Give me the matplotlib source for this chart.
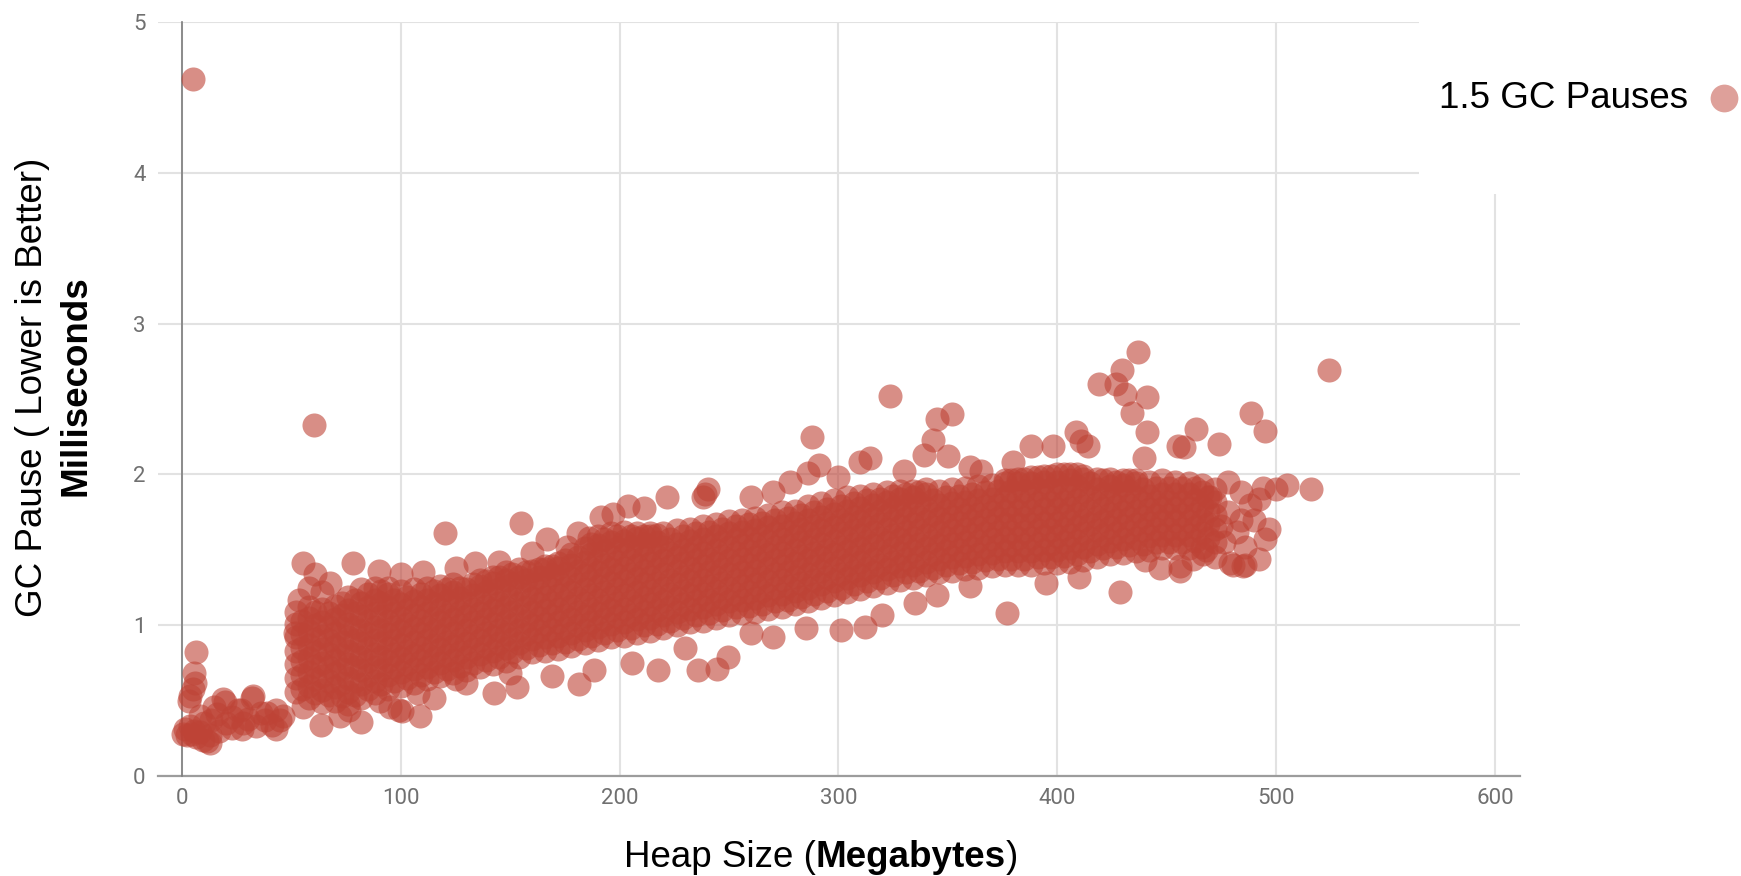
import matplotlib.pyplot as plt
from matplotlib.lines import Line2D
from matplotlib.patches import Rectangle

# dense band: heap size columns (MB) and the GC pauses (ms) read in each column
band_heap_mb = [52, 58, 64, 70, 76, 82, 88, 94, 100, 106, 112, 118, 124, 130, 136, 142,
                148, 154, 160, 166, 172, 178, 184, 190, 196, 202, 208, 214, 220, 226, 232,
                238, 244, 250, 256, 262, 268, 274, 280, 286, 292, 298, 304, 310, 316, 322,
                328, 334, 340, 346, 352, 358, 364, 370, 376, 382, 388, 394, 400, 406, 412,
                418, 424, 430, 436, 442, 448, 454, 460, 466, 472]
band_pause_ms = [
    [0.56, 0.65, 0.74, 0.83, 0.92, 1.01, 1.09],
    [0.52, 0.60, 0.69, 0.78, 0.87, 0.96, 1.05, 1.12],
    [0.49, 0.57, 0.66, 0.75, 0.84, 0.93, 1.02, 1.11],
    [0.50, 0.59, 0.68, 0.77, 0.86, 0.95, 1.04, 1.13],
    [0.48, 0.56, 0.65, 0.74, 0.83, 0.92, 1.01, 1.10, 1.19],
    [0.52, 0.61, 0.70, 0.79, 0.88, 0.97, 1.06, 1.15, 1.24],
    [0.55, 0.63, 0.72, 0.81, 0.90, 0.99, 1.08, 1.17, 1.25],
    [0.58, 0.67, 0.76, 0.85, 0.94, 1.03, 1.12, 1.21, 1.25],
    [0.60, 0.69, 0.78, 0.87, 0.96, 1.05, 1.14, 1.23],
    [0.62, 0.71, 0.80, 0.89, 0.98, 1.07, 1.16, 1.24],
    [0.64, 0.72, 0.81, 0.90, 0.99, 1.08, 1.17, 1.25],
    [0.66, 0.75, 0.84, 0.93, 1.02, 1.11, 1.20, 1.26],
    [0.68, 0.77, 0.86, 0.95, 1.04, 1.13, 1.22, 1.27],
    [0.70, 0.79, 0.88, 0.97, 1.06, 1.15, 1.24],
    [0.72, 0.81, 0.90, 0.99, 1.08, 1.17, 1.26, 1.30],
    [0.74, 0.83, 0.92, 1.01, 1.10, 1.19, 1.28, 1.32],
    [0.76, 0.85, 0.94, 1.03, 1.12, 1.21, 1.30, 1.35],
    [0.79, 0.88, 0.97, 1.06, 1.15, 1.24, 1.32, 1.37],
    [0.82, 0.91, 1.00, 1.09, 1.18, 1.27, 1.36],
    [0.83, 0.92, 1.01, 1.10, 1.19, 1.28, 1.37, 1.39],
    [0.84, 0.93, 1.02, 1.11, 1.20, 1.29, 1.38, 1.41],
    [0.86, 0.95, 1.04, 1.13, 1.22, 1.31, 1.40, 1.47],
    [0.88, 0.97, 1.06, 1.15, 1.24, 1.33, 1.42, 1.51],
    [0.90, 0.99, 1.08, 1.17, 1.26, 1.35, 1.44, 1.53, 1.59],
    [0.92, 1.01, 1.10, 1.19, 1.28, 1.37, 1.46, 1.55, 1.61],
    [0.93, 1.02, 1.11, 1.20, 1.29, 1.38, 1.47, 1.56, 1.62],
    [0.95, 1.04, 1.13, 1.22, 1.31, 1.40, 1.49, 1.58, 1.61],
    [0.96, 1.05, 1.14, 1.23, 1.32, 1.41, 1.50, 1.59, 1.61],
    [0.98, 1.07, 1.16, 1.25, 1.34, 1.43, 1.52, 1.61],
    [1.00, 1.09, 1.18, 1.27, 1.36, 1.45, 1.54, 1.63],
    [1.02, 1.11, 1.20, 1.29, 1.38, 1.47, 1.56, 1.64],
    [1.03, 1.12, 1.21, 1.30, 1.39, 1.48, 1.57, 1.66],
    [1.05, 1.14, 1.23, 1.32, 1.41, 1.50, 1.59, 1.67],
    [1.07, 1.16, 1.25, 1.34, 1.43, 1.52, 1.61, 1.69],
    [1.08, 1.17, 1.26, 1.35, 1.44, 1.53, 1.62, 1.70],
    [1.09, 1.18, 1.27, 1.36, 1.45, 1.54, 1.63, 1.71],
    [1.11, 1.20, 1.29, 1.38, 1.47, 1.56, 1.65, 1.73],
    [1.12, 1.21, 1.30, 1.39, 1.48, 1.57, 1.66, 1.75],
    [1.14, 1.23, 1.32, 1.41, 1.50, 1.59, 1.68, 1.76],
    [1.16, 1.25, 1.34, 1.43, 1.52, 1.61, 1.70, 1.79],
    [1.18, 1.27, 1.36, 1.45, 1.54, 1.63, 1.72, 1.81],
    [1.20, 1.29, 1.38, 1.47, 1.56, 1.65, 1.74, 1.83],
    [1.22, 1.31, 1.40, 1.49, 1.58, 1.67, 1.76, 1.85],
    [1.24, 1.33, 1.42, 1.51, 1.60, 1.69, 1.78, 1.86],
    [1.26, 1.35, 1.44, 1.53, 1.62, 1.71, 1.80, 1.87],
    [1.28, 1.37, 1.46, 1.55, 1.64, 1.73, 1.82, 1.88],
    [1.30, 1.39, 1.48, 1.57, 1.66, 1.75, 1.84, 1.89],
    [1.31, 1.40, 1.49, 1.58, 1.67, 1.76, 1.85, 1.89],
    [1.33, 1.42, 1.51, 1.60, 1.69, 1.78, 1.87, 1.90],
    [1.35, 1.44, 1.53, 1.62, 1.71, 1.80, 1.89],
    [1.36, 1.45, 1.54, 1.63, 1.72, 1.81, 1.90],
    [1.37, 1.46, 1.55, 1.64, 1.73, 1.82, 1.91],
    [1.38, 1.47, 1.56, 1.65, 1.74, 1.83, 1.92],
    [1.39, 1.48, 1.57, 1.66, 1.75, 1.84, 1.93],
    [1.40, 1.49, 1.58, 1.67, 1.76, 1.85, 1.94, 1.96],
    [1.40, 1.49, 1.58, 1.67, 1.76, 1.85, 1.94, 1.97],
    [1.40, 1.49, 1.58, 1.67, 1.76, 1.85, 1.94, 1.98],
    [1.41, 1.50, 1.59, 1.68, 1.77, 1.86, 1.95, 1.99],
    [1.41, 1.50, 1.59, 1.68, 1.77, 1.86, 1.95, 2.00],
    [1.42, 1.51, 1.60, 1.69, 1.78, 1.87, 1.96, 2.00],
    [1.43, 1.52, 1.61, 1.70, 1.79, 1.88, 1.97, 1.99],
    [1.45, 1.54, 1.63, 1.72, 1.81, 1.90, 1.97],
    [1.47, 1.56, 1.65, 1.74, 1.83, 1.92, 1.97],
    [1.48, 1.57, 1.66, 1.75, 1.84, 1.93, 1.96],
    [1.49, 1.58, 1.67, 1.76, 1.85, 1.94, 1.96],
    [1.50, 1.59, 1.68, 1.77, 1.86, 1.95],
    [1.51, 1.60, 1.69, 1.78, 1.87, 1.96],
    [1.51, 1.60, 1.69, 1.78, 1.87, 1.95],
    [1.51, 1.60, 1.69, 1.78, 1.87, 1.94],
    [1.52, 1.61, 1.70, 1.79, 1.88, 1.93],
    [1.55, 1.64, 1.73, 1.82, 1.90],
]

# the band again, read in the columns between the ones above
band_mid_heap_mb = [55, 61, 67, 73, 79, 85, 91, 97, 103, 109, 115, 121, 127, 133, 139, 145,
                    151, 157, 163, 169, 175, 181, 187, 193, 199, 205, 211, 217, 223, 229,
                    235, 241, 247, 253, 259, 265, 271, 277, 283, 289, 295, 301, 307, 313,
                    319, 325, 331, 337, 343, 349, 355, 361, 367, 373, 379, 385, 391, 397,
                    403, 409, 415, 421, 427, 433, 439, 445, 451, 457, 463, 469]
band_mid_pause_ms = [
    [0.58, 0.67, 0.76, 0.85, 0.94, 1.03],
    [0.55, 0.64, 0.73, 0.82, 0.91, 1.00, 1.09],
    [0.54, 0.63, 0.72, 0.81, 0.90, 0.99, 1.08],
    [0.53, 0.62, 0.71, 0.80, 0.89, 0.98, 1.07, 1.15],
    [0.54, 0.63, 0.72, 0.81, 0.90, 0.99, 1.08, 1.17],
    [0.58, 0.67, 0.76, 0.85, 0.94, 1.03, 1.12, 1.21],
    [0.61, 0.70, 0.79, 0.88, 0.97, 1.06, 1.15, 1.23],
    [0.63, 0.72, 0.81, 0.90, 0.99, 1.08, 1.17],
    [0.65, 0.74, 0.83, 0.92, 1.01, 1.10, 1.19],
    [0.67, 0.76, 0.85, 0.94, 1.03, 1.12, 1.21],
    [0.69, 0.78, 0.87, 0.96, 1.05, 1.14, 1.23],
    [0.71, 0.80, 0.89, 0.98, 1.07, 1.16, 1.24],
    [0.73, 0.82, 0.91, 1.00, 1.09, 1.18, 1.25],
    [0.75, 0.84, 0.93, 1.02, 1.11, 1.20, 1.27],
    [0.77, 0.86, 0.95, 1.04, 1.13, 1.22, 1.29],
    [0.79, 0.88, 0.97, 1.06, 1.15, 1.24, 1.32],
    [0.82, 0.91, 1.00, 1.09, 1.18, 1.27, 1.34],
    [0.85, 0.94, 1.03, 1.12, 1.21, 1.30, 1.35],
    [0.87, 0.96, 1.05, 1.14, 1.23, 1.32, 1.37],
    [0.88, 0.97, 1.06, 1.15, 1.24, 1.33, 1.39],
    [0.89, 0.98, 1.07, 1.16, 1.25, 1.34, 1.43],
    [0.91, 1.00, 1.09, 1.18, 1.27, 1.36, 1.45],
    [0.93, 1.02, 1.11, 1.20, 1.29, 1.38, 1.47, 1.54],
    [0.95, 1.04, 1.13, 1.22, 1.31, 1.40, 1.49, 1.57],
    [0.97, 1.06, 1.15, 1.24, 1.33, 1.42, 1.51, 1.59],
    [0.98, 1.07, 1.16, 1.25, 1.34, 1.43, 1.52, 1.59],
    [1.00, 1.09, 1.18, 1.27, 1.36, 1.45, 1.54, 1.59],
    [1.01, 1.10, 1.19, 1.28, 1.37, 1.46, 1.55, 1.60],
    [1.03, 1.12, 1.21, 1.30, 1.39, 1.48, 1.57],
    [1.05, 1.14, 1.23, 1.32, 1.41, 1.50, 1.59],
    [1.07, 1.16, 1.25, 1.34, 1.43, 1.52, 1.61],
    [1.08, 1.17, 1.26, 1.35, 1.44, 1.53, 1.62],
    [1.10, 1.19, 1.28, 1.37, 1.46, 1.55, 1.64],
    [1.12, 1.21, 1.30, 1.39, 1.48, 1.57, 1.66],
    [1.13, 1.22, 1.31, 1.40, 1.49, 1.58, 1.67],
    [1.14, 1.23, 1.32, 1.41, 1.50, 1.59, 1.68],
    [1.16, 1.25, 1.34, 1.43, 1.52, 1.61, 1.70],
    [1.17, 1.26, 1.35, 1.44, 1.53, 1.62, 1.71],
    [1.19, 1.28, 1.37, 1.46, 1.55, 1.64, 1.73],
    [1.21, 1.30, 1.39, 1.48, 1.57, 1.66, 1.75],
    [1.23, 1.32, 1.41, 1.50, 1.59, 1.68, 1.77],
    [1.25, 1.34, 1.43, 1.52, 1.61, 1.70, 1.79],
    [1.27, 1.36, 1.45, 1.54, 1.63, 1.72, 1.81],
    [1.29, 1.38, 1.47, 1.56, 1.65, 1.74, 1.83],
    [1.31, 1.40, 1.49, 1.58, 1.67, 1.76, 1.84],
    [1.33, 1.42, 1.51, 1.60, 1.69, 1.78, 1.86],
    [1.35, 1.44, 1.53, 1.62, 1.71, 1.80, 1.87],
    [1.36, 1.45, 1.54, 1.63, 1.72, 1.81, 1.88],
    [1.38, 1.47, 1.56, 1.65, 1.74, 1.83],
    [1.40, 1.49, 1.58, 1.67, 1.76, 1.85],
    [1.41, 1.50, 1.59, 1.68, 1.77, 1.86],
    [1.42, 1.51, 1.60, 1.69, 1.78, 1.87],
    [1.43, 1.52, 1.61, 1.70, 1.79, 1.88],
    [1.44, 1.53, 1.62, 1.71, 1.80, 1.89],
    [1.44, 1.53, 1.62, 1.71, 1.80, 1.89, 1.96],
    [1.44, 1.53, 1.62, 1.71, 1.80, 1.89, 1.97],
    [1.45, 1.54, 1.63, 1.72, 1.81, 1.90, 1.98],
    [1.45, 1.54, 1.63, 1.72, 1.81, 1.90, 1.99],
    [1.46, 1.55, 1.64, 1.73, 1.82, 1.91, 2.00],
    [1.47, 1.56, 1.65, 1.74, 1.83, 1.92, 2.00],
    [1.49, 1.58, 1.67, 1.76, 1.85, 1.94],
    [1.51, 1.60, 1.69, 1.78, 1.87, 1.96],
    [1.52, 1.61, 1.70, 1.79, 1.88, 1.95],
    [1.53, 1.62, 1.71, 1.80, 1.89, 1.96],
    [1.54, 1.63, 1.72, 1.81, 1.90],
    [1.55, 1.64, 1.73, 1.82, 1.91],
    [1.55, 1.64, 1.73, 1.82, 1.91],
    [1.55, 1.64, 1.73, 1.82, 1.91],
    [1.56, 1.65, 1.74, 1.83, 1.91],
    [1.58, 1.67, 1.76, 1.85],
]

# small heaps (< 50 MB), (heap MB, pause ms)
low_heap_points = [
    (0.5, 0.28), (1.5, 0.31), (2.5, 0.27), (3.5, 0.33), (4.5, 0.28), (5.5, 0.30),
    (6.5, 0.26), (8, 0.29), (9.5, 0.24), (11.5, 0.23), (13, 0.27), (3, 0.50),
    (3.5, 0.53), (5, 0.58), (6, 0.62), (5.6, 0.68), (6.4, 0.82), (12.8, 0.22),
    (14.6, 0.46), (13.4, 0.37), (16, 0.41), (18.6, 0.51), (19.7, 0.49), (20.3, 0.35),
    (22.9, 0.39), (25.6, 0.44), (27, 0.44), (27.3, 0.31), (28, 0.35), (30, 0.38),
    (32, 0.52), (32.6, 0.53), (34, 0.33), (36, 0.42), (37.8, 0.37), (39, 0.42),
    (41, 0.34), (43, 0.44), (43, 0.31), (45, 0.37), (46, 0.40), (17, 0.30),
    (23, 0.32), (10, 0.35), (8, 0.40),
]

# strays above the band
upper_points = [
    (5, 4.62), (60.2, 2.33), (55.3, 1.41), (60.6, 1.34), (67.6, 1.28), (53.6, 1.17),
    (51.8, 0.95), (64, 1.22), (58, 1.25), (78, 1.41), (134, 1.41), (120, 1.61),
    (155, 1.68), (167, 1.57), (180.8, 1.61), (191.6, 1.72), (204, 1.79), (221.5, 1.85),
    (239, 1.87), (240.6, 1.90), (238, 1.85), (211, 1.78), (197, 1.74), (186, 1.58),
    (176, 1.52), (160, 1.48), (145, 1.42), (100, 1.34), (90, 1.36), (110, 1.35),
    (125, 1.38), (288, 2.25), (291, 2.06), (286, 2.01), (314.5, 2.11), (310, 2.08),
    (323.7, 2.52), (345, 2.37), (352, 2.40), (343, 2.23), (339, 2.13), (350, 2.12),
    (260, 1.85), (270, 1.88), (278, 1.95), (300, 1.98), (330, 2.02), (360, 2.05),
    (365, 2.02), (380, 2.08), (388, 2.19), (398, 2.19), (408.5, 2.28), (411, 2.22),
    (414, 2.19), (419, 2.60), (427, 2.60), (429.5, 2.69), (431, 2.53), (434, 2.41),
    (437, 2.81), (441, 2.51), (441, 2.28), (439.5, 2.11), (455, 2.19), (458, 2.18),
    (463.4, 2.30), (474, 2.20), (488.4, 2.41), (495, 2.29), (524.3, 2.69),
]

# right-hand tail beyond the dense band
tail_points = [
    (516, 1.90), (505, 1.93), (500, 1.90), (494, 1.91), (497, 1.64), (495, 1.57),
    (492, 1.44), (480.5, 1.40), (486, 1.40), (466.5, 1.47), (456, 1.36), (478, 1.95),
    (484, 1.88), (488, 1.80), (490, 1.70), (482, 1.62), (476, 1.55), (486, 1.52),
    (478, 1.75), (470, 1.85), (492, 1.84), (484, 1.70), (475, 1.66), (468, 1.50),
    (462, 1.44), (472, 1.45), (447, 1.38), (440, 1.43), (377, 1.08),
]

# strays below the band
lower_points = [
    (63.6, 0.34), (82, 0.36), (100.5, 0.43), (108.6, 0.40), (55.3, 0.46), (76.4, 0.44),
    (99.1, 0.44), (90.3, 0.50), (107.8, 0.55), (125.3, 0.64), (142.8, 0.55),
    (153.3, 0.59), (169, 0.66), (181.3, 0.61), (188.2, 0.70), (205.8, 0.75),
    (217.6, 0.70), (236, 0.70), (244.6, 0.71), (249.5, 0.79), (301, 0.97), (312, 0.99),
    (360, 1.26), (428.8, 1.22), (456, 1.39), (479, 1.41), (485, 1.39), (270, 0.92),
    (285, 0.98), (320, 1.07), (335, 1.15), (345, 1.20), (395, 1.28), (410, 1.32),
    (230, 0.85), (260, 0.95), (150, 0.68), (130, 0.62), (115, 0.52), (95, 0.46),
    (72, 0.40),
]

x_ticks = [0, 100, 200, 300, 400, 500, 600]
y_ticks = [0, 1, 2, 3, 4, 5]
series_name = '1.5 GC Pauses'

heap, pause = [], []
for cols, vals in ((band_heap_mb, band_pause_ms), (band_mid_heap_mb, band_mid_pause_ms)):
    for h, col in zip(cols, vals):
        heap += [h] * len(col)
        pause += col
for pts in (low_heap_points, upper_points, tail_points, lower_points):
    heap += [p[0] for p in pts]
    pause += [p[1] for p in pts]

W, H = 1741, 876
red = '#BE4336'
title_font = 'Liberation Sans'

fig = plt.figure(figsize=(W / 100, H / 100), dpi=100)
ax = fig.add_axes([158 / W, 100 / H, 1362 / W, 754 / H])
ax.set_xlim(-10.97, 611.5)
ax.set_ylim(0, 5)
ax.set_xticks(x_ticks)
ax.set_yticks(y_ticks)
ax.grid(True, color='#e2e2e2', linewidth=1.5, zorder=0)
ax.set_axisbelow(True)
for s in ax.spines.values():
    s.set_visible(False)
ax.tick_params(length=0, labelsize=16, labelcolor='#707070', pad=9)
for lab in ax.get_xticklabels() + ax.get_yticklabels():
    lab.set_family('Roboto')

ax.axhline(0, color='#9c9c9c', linewidth=1.6, zorder=1, clip_on=False)
ax.axvline(0, color='#7c7c7c', linewidth=1.2, zorder=1, clip_on=False)

ax.scatter(heap, pause, s=300, color=red, alpha=0.6, linewidths=0, zorder=3)

# x title with bold unit
renderer = fig.canvas.get_renderer()
parts = [('Heap Size (', 'normal'), ('Megabytes', 'bold'), (')', 'normal')]
texts = [fig.text(0, 1 - 867 / H, s, fontsize=26.5, fontweight=w, family=title_font,
                  ha='left', va='baseline') for s, w in parts]
widths = [t.get_window_extent(renderer).width for t in texts]
x0 = 821 - sum(widths) / 2
for t, w in zip(texts, widths):
    t.set_x(x0 / W)
    x0 += w

# y title, two lines
fig.text(42 / W, 1 - 387 / H, 'GC Pause ( Lower is Better)', fontsize=26.5, family=title_font,
         rotation=90, rotation_mode='anchor', ha='center', va='baseline')
fig.text(85 / W, 1 - 386 / H, 'Milliseconds', fontsize=26.5, fontweight='bold',
         family=title_font, rotation=90, rotation_mode='anchor', ha='center', va='baseline')

# legend area
fig.add_artist(Rectangle((1419 / W, 1 - 194 / H), (W - 1419) / W, 194 / H,
                         transform=fig.transFigure, facecolor='white', edgecolor='none',
                         zorder=5))
fig.text(1688 / W, 1 - 108 / H, series_name, fontsize=26.5, family=title_font,
         ha='right', va='baseline', zorder=6)
fig.add_artist(Line2D([1724 / W], [1 - 97.5 / H], marker='o', markersize=20, color=red,
                      alpha=0.5, markeredgewidth=0, linestyle='none',
                      transform=fig.transFigure, zorder=6))

fig.savefig('out.png', dpi=100)
